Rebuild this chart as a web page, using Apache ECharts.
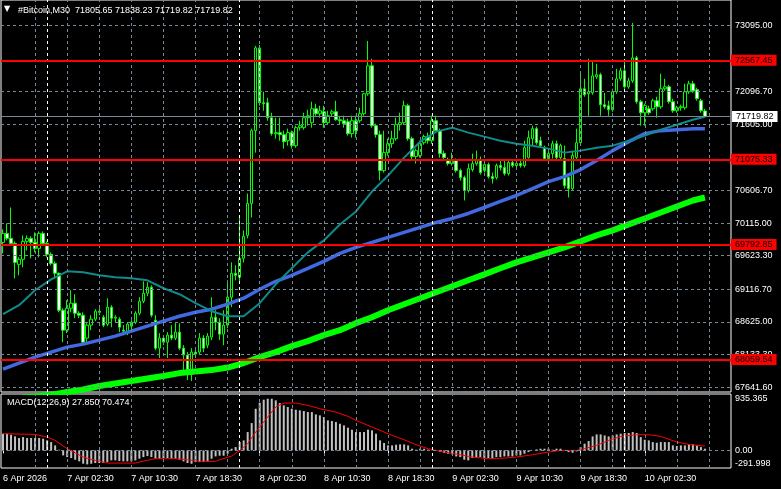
<!DOCTYPE html>
<html><head><meta charset="utf-8">
<script src="https://cdn.jsdelivr.net/npm/echarts@6/dist/echarts.min.js"></script>
<style>html,body{margin:0;padding:0;background:#000;}#c{width:781px;height:489px;}</style>
</head><body><div id="c"></div>
<script>
const FONT = "'Liberation Sans', Arial, sans-serif";
const symbolName = '#Bitcoin,M30';
// OHLC of the 176 M30 bars (6 Apr 18:30 .. 10 Apr 10:00)
const barOpen = [69824,69960,69885,69809,69493,69569,69839,69885,69824,69734,
69960,69809,69644,69508,69358,68802,68502,68832,68908,68757,
68727,68382,68577,68667,68787,68697,68592,68848,68682,68667,
68502,68472,68562,68622,68757,68938,69058,69148,68652,68231,
68382,68321,68427,68382,68472,68231,68126,67901,68171,68171,
68382,68276,68397,68697,68622,68442,68577,68998,69358,69298,
69584,69930,70411,71508,72755,71929,71929,71703,71463,71478,
71448,71357,71478,71282,71553,71553,71703,71628,71838,71763,
71793,71628,71763,71793,71673,71658,71643,71463,71658,71658,
71763,72064,72485,71583,71448,70907,71177,71312,71387,71598,
71628,71884,71387,71117,71132,71327,71418,71357,71658,71508,
71162,71057,71012,71057,70907,70801,70606,70922,71012,71057,
70907,70997,70816,70801,70982,70952,70861,71027,70982,71012,
70982,71102,71387,71538,71357,71252,71087,71162,71312,71102,
71087,70801,70636,71102,71327,72139,72064,72079,72319,72350,
71899,71884,71823,72094,72289,72410,72169,72259,72605,71944,
71778,71838,71838,71959,71868,72139,72169,71944,71808,71853,
71853,72094,72214,72124,71959,71805.65];
const barClose = [69960,69885,69809,69523,69569,69839,69885,69824,69734,69960,
69809,69644,69508,69358,68802,68502,68832,68908,68757,68727,
68321,68577,68667,68787,68772,68577,68848,68682,68697,68547,
68487,68592,68622,68757,68938,69058,69148,68727,68231,68382,
68321,68427,68382,68472,68231,68126,67901,68171,68141,68382,
68231,68412,68697,68622,68442,68577,68998,69358,69328,69584,
69915,70411,71508,72755,71929,71914,71703,71463,71478,71448,
71342,71478,71282,71553,71583,71703,71733,71838,71763,71808,
71628,71733,71793,71673,71658,71613,71463,71658,71508,71763,
72064,72485,71583,71448,70907,71177,71312,71387,71598,71628,
71884,71387,71117,71207,71312,71418,71357,71658,71508,71162,
71102,71012,71057,70907,70801,70606,70937,71012,71057,70876,
70997,70816,70786,70982,70952,70861,71027,70982,71012,70982,
71252,71403,71538,71327,71282,71087,71162,71312,71102,71282,
70681,70636,71132,71327,72139,72049,72094,72334,72350,71899,
71868,71823,72094,72289,72410,72169,72259,72605,71944,71778,
71884,71778,71959,71868,72139,72169,71944,71808,71853,71868,
72094,72214,72109,71989,71808,71719.82];
const barHigh = [70020,70110,70350,69839,69599,69930,69930,69915,69975,69990,
69990,69839,69674,69539,69373,68832,68953,69103,69043,68787,
68772,68607,68727,68817,68832,68727,68983,68878,68727,68697,
68577,68622,68652,68787,68998,69238,69223,69178,68727,68457,
68427,68472,68577,68607,68607,68276,68171,68231,68231,68457,
68427,68457,68998,68802,68682,68802,69253,69523,69479,70200,
70005,70561,71538,72785,72800,72094,72004,71778,71703,71703,
71508,71538,71508,71583,71658,71778,71823,71944,71914,71884,
71884,71808,71823,71959,71733,71733,71688,71733,71733,71853,
72079,72860,72590,71613,71508,71508,71387,71508,71703,71778,
71959,71914,71418,71237,71357,71448,71478,71733,71733,71538,
71207,71102,71177,71087,70937,70831,71012,71162,71207,71117,
71057,71027,70876,71012,71057,71057,71057,71057,71057,71057,
71357,71508,71583,71568,71418,71282,71207,71357,71357,71312,
71282,70831,71207,71538,72365,72289,72590,72560,72515,72380,
72079,71959,72139,72440,72455,72560,72304,73131,72635,71974,
71914,71884,71989,72019,72365,72289,72199,71989,71884,71899,
72214,72259,72259,72154,71989,71838.23];
const barLow = [69659,69854,69779,69283,69328,69448,69704,69584,69674,69599,
69779,69599,69479,69283,68772,68321,68457,68772,68682,68682,
68306,68306,68502,68637,68727,68547,68562,68547,68622,68472,
68427,68427,68502,68592,68727,68908,69013,68697,68201,68081,
68276,68081,68352,68352,68201,67901,67750,67735,68081,68126,
68171,68231,68352,68502,68352,68276,68532,68848,69253,69208,
69523,69885,70200,71177,71884,71808,71658,71433,71387,71357,
71237,71282,71237,71252,71508,71523,71583,71553,71733,71703,
71553,71598,71718,71658,71598,71553,71433,71403,71403,71628,
71733,72034,71553,71403,70756,70876,71132,71252,71357,71508,
71598,71357,71057,71012,71102,71297,71312,71312,71478,71102,
71057,70982,70982,70876,70756,70456,70576,70891,70982,70846,
70876,70786,70711,70771,70907,70831,70831,70952,70937,70952,
70952,71087,71282,71297,71252,71057,71027,71087,71057,71057,
70636,70501,70606,71072,71297,72019,71733,72049,72289,71733,
71838,71733,71793,72064,72259,72139,72139,72229,71914,71583,
71583,71748,71808,71703,71838,72109,71914,71778,71778,71808,
71823,72064,72079,71959,71778,71719.82];

// moving averages, read every 4th bar
const maIdx = [0,4,8,12,16,20,24,28,32,36,40,44,48,52,56,60,64,68,72,76,80,84,88,92,96,100,104,108,112,116,120,124,128,132,136,140,144,148,152,156,160,164,168,172,175];
const maTeal = [68742,68878,69103,69268,69388,69373,69328,69298,69283,69253,69133,69043,68908,68787,68712,68712,68908,69193,69434,69674,69854,70095,70290,70591,70831,71102,71342,71493,71553,71478,71418,71357,71312,71282,71237,71177,71207,71252,71282,71357,71433,71523,71598,71673,71718];
const maBlue = [67915,68006,68096,68171,68246,68291,68352,68412,68487,68562,68637,68712,68772,68817,68893,68983,69118,69238,69328,69434,69539,69659,69749,69824,69900,69975,70050,70125,70185,70260,70350,70441,70531,70636,70741,70816,70922,71057,71207,71342,71463,71508,71523,71538,71538];
const maGreen = [67465,67480,67502,67525,67570,67608,67660,67698,67735,67773,67810,67855,67878,67900,67938,68006,68096,68171,68261,68336,68427,68502,68607,68697,68802,68893,68983,69073,69163,69253,69343,69434,69524,69599,69674,69749,69839,69930,70005,70095,70185,70275,70366,70456,70501];

// MACD(12,26,9)
const macdMain = [277,277,260,232,205,221,205,205,205,205,
194,166,138,83,11,-83,-111,-127,-155,-182,
-221,-232,-221,-210,-210,-210,-194,-166,-166,-177,
-182,-182,-182,-166,-138,-111,-94,-111,-138,-138,
-127,-127,-138,-138,-155,-182,-210,-221,-194,-194,
-194,-182,-138,-100,-88,-88,-55,28,55,138,
166,304,453,691,791,841,857,857,830,785,
747,719,691,675,664,653,636,636,597,581,
553,498,487,470,442,415,376,343,304,304,
304,343,332,277,166,122,83,83,94,100,
100,83,28,11,28,28,11,5,-3,-28,
-44,-55,-66,-100,-111,-155,-166,-127,-111,-111,
-127,-127,-138,-111,-111,-100,-100,-100,-83,-83,
-55,-28,-2,17,28,28,28,11,28,28,
-3,-28,-39,-17,55,111,155,232,265,265,
249,232,249,265,277,288,288,304,288,221,
177,166,138,127,138,138,138,83,72,83,
83,100,100,83,55,27.85];
const sigIdx = [0,4,8,11,13,16,20,23,26,33,35,38,43,46,49,53,54,57,59,61,63,66,68,70,73,76,79,83,86,88,91,94,97,100,103,106,110,114,117,121,125,128,132,136,139,143,144,148,151,154,158,161,164,168,171,175];
const sigVal = [277,271,265,221,166,28,-111,-166,-210,-210,-177,-138,-138,-155,-182,-182,-155,-94,0,111,304,553,719,785,785,747,691,636,564,498,415,332,249,177,94,28,-28,-72,-111,-138,-127,-111,-72,-28,0,0,11,83,166,232,260,260,232,138,100,70.474];

const timeLabels = ['6 Apr 2026','7 Apr 02:30','7 Apr 10:30','7 Apr 18:30','8 Apr 02:30','8 Apr 10:30','8 Apr 18:30','9 Apr 02:30','9 Apr 10:30','9 Apr 18:30','10 Apr 02:30'];
const priceTicks = [73095.00,72096.70,71605.00,70606.70,70115.00,69623.30,69116.70,68625.00,68133.30,67641.60];
const levelLines = [72567.45,71075.33,69792.85,68059.54];
const macdMax = 935.365, macdMin = -291.998;
const lastPrice = 71719.82;

const NSLOT = 182, LABEL_STEP = 16;
const cats = Array.from({length: NSLOT}, (_, i) => 'b' + i);
const candleData = barOpen.map((o, i) => [o, barClose[i], barLow[i], barHigh[i]]);
const pairs = (idx, vals) => idx.map((k, j) => [k, vals[j]]);
const vGrid = []; for (let i = 8; i <= 176; i += 8) vGrid.push(i);
const daySep = [11, 59, 107, 155];

const GRID = '#778899';
const vLines = vGrid.map(i => ({xAxis: i, lineStyle: {color: GRID, type: [3, 3], width: 1}}))
  .concat(daySep.map(i => ({xAxis: i, lineStyle: {color: '#ffffff', type: [3, 3], width: 1}})));

const chart = echarts.init(document.getElementById('c'), null, {renderer: 'canvas', width: 781, height: 489});
const baseText = {fontFamily: FONT, fontSize: 9, color: '#ffffff'};
// small inset so the extreme labels sit just inside the panel
const inset = (macdMax - macdMin) * 0.001;

chart.setOption({
  backgroundColor: '#000000',
  animation: false,
  title: [
    {text: '▼', left: 4, top: 5, padding: 0, textStyle: {color: '#fff', fontSize: 8, fontFamily: 'DejaVu Sans', fontWeight: 'normal'}},
    {text: symbolName + '  ' + [barOpen[175], barHigh[175], barLow[175], barClose[175]].map(v => v.toFixed(2)).join(' '),
     left: 18, top: 6, padding: 0, textStyle: Object.assign({fontWeight: 'normal'}, baseText)},
    {text: 'MACD(12,26,9) ' + macdMain[175].toFixed(3) + ' ' + sigVal[sigVal.length - 1].toFixed(3),
     left: 7, top: 398, padding: 0, textStyle: Object.assign({fontWeight: 'normal'}, baseText)}
  ],
  grid: [
    {left: 1, top: -1, width: 730, height: 393, show: true, borderColor: '#ffffff', borderWidth: 1, backgroundColor: 'transparent'},
    {left: 1, top: 394, width: 730, height: 74, show: true, borderColor: '#ffffff', borderWidth: 1, backgroundColor: 'transparent'}
  ],
  xAxis: [
    {type: 'category', gridIndex: 0, data: cats, boundaryGap: true, axisLine: {show: false}, axisTick: {show: false}, axisLabel: {show: false}, splitLine: {show: false}},
    {type: 'category', gridIndex: 1, data: cats, boundaryGap: true, axisLine: {show: false},
     axisTick: {show: true, alignWithLabel: true, length: 3, interval: (i) => i % LABEL_STEP === 0 && i / LABEL_STEP < timeLabels.length, lineStyle: {color: '#fff'}},
     axisLabel: Object.assign({show: true, interval: 0, align: 'left', margin: 6,
       formatter: (v, i) => (i % LABEL_STEP === 0 && i / LABEL_STEP < timeLabels.length) ? timeLabels[i / LABEL_STEP] : ''}, baseText),
     splitLine: {show: false}}
  ],
  yAxis: [
    {type: 'value', gridIndex: 0, min: 67569.94, max: 73476.73, show: false, splitLine: {show: false}},
    {type: 'value', gridIndex: 1, min: macdMin, max: macdMax, show: false, splitLine: {show: false}}
  ],
  series: [
    {type: 'line', name: 'gridMain', xAxisIndex: 0, yAxisIndex: 0, data: [], z: 1, silent: true,
     markLine: {silent: true, symbol: ['none', 'none'], animation: false,
       label: {show: false},
       data: vLines.concat(priceTicks.map(v => ({yAxis: v, lineStyle: {color: GRID, type: [3, 3], width: 1},
         label: Object.assign({show: true, position: 'end', distance: 4, formatter: (p) => p.value.toFixed(2)}, baseText)})))}},
    {type: 'line', name: 'gridMacd', xAxisIndex: 1, yAxisIndex: 1, data: [], z: 1, silent: true,
     markLine: {silent: true, symbol: ['none', 'none'], animation: false,
       label: {show: false},
       data: vLines.concat([
         {yAxis: macdMax - inset, name: macdMax.toFixed(3), lineStyle: {color: '#000', width: 0.1},
          label: Object.assign({show: true, position: 'end', distance: 4, formatter: '{b}', verticalAlign: 'top'}, baseText)},
         {yAxis: 0, name: '0.00', lineStyle: {color: GRID, type: [3, 3], width: 1},
          label: Object.assign({show: true, position: 'end', distance: 4, formatter: '{b}'}, baseText)},
         {yAxis: macdMin + inset, name: macdMin.toFixed(3), lineStyle: {color: '#000', width: 0.1},
          label: Object.assign({show: true, position: 'end', distance: 4, formatter: '{b}', verticalAlign: 'bottom'}, baseText)}
       ])}},
    {type: 'candlestick', name: 'price', xAxisIndex: 0, yAxisIndex: 0, data: candleData, barWidth: 3, z: 2,
     itemStyle: {color: '#000000', color0: '#ffffff', borderColor: '#00ff00', borderColor0: '#00ff00', borderWidth: 1}},
    {type: 'line', name: 'maGreen', data: pairs(maIdx, maGreen), showSymbol: false, symbol: 'none', z: 3,
     lineStyle: {color: '#00ff00', width: 6}},
    {type: 'line', name: 'maBlue', data: pairs(maIdx, maBlue), showSymbol: false, symbol: 'none', z: 3,
     lineStyle: {color: '#4169e1', width: 3.5}},
    {type: 'line', name: 'maTeal', data: pairs(maIdx, maTeal), showSymbol: false, symbol: 'none', z: 3,
     lineStyle: {color: '#108a8a', width: 2}},
    {type: 'line', name: 'levels', xAxisIndex: 0, yAxisIndex: 0, data: [], z: 6, silent: true,
     markLine: {silent: true, symbol: ['none', 'none'], animation: false,
       data: levelLines.map(v => ({yAxis: v, lineStyle: {color: '#ff0000', type: 'solid', width: 2},
         label: {show: true, position: 'end', distance: 0, formatter: (p) => p.value.toFixed(2),
           backgroundColor: '#ff0000', color: '#000000', fontFamily: FONT, fontSize: 9, lineHeight: 10, padding: [1, 4, 0, 4]}}))
         .concat([{yAxis: lastPrice, lineStyle: {color: GRID, type: 'solid', width: 1},
           label: {show: true, position: 'end', distance: 1, formatter: (p) => p.value.toFixed(2),
             backgroundColor: '#ffffff', color: '#000000', fontFamily: FONT, fontSize: 9, lineHeight: 10, padding: [1, 4, 0, 4]}}])}},
    {type: 'bar', name: 'MACD', xAxisIndex: 1, yAxisIndex: 1, data: macdMain, barWidth: 2, z: 2,
     itemStyle: {color: '#c0c0c0'}},
    {type: 'line', name: 'Signal', xAxisIndex: 1, yAxisIndex: 1, data: pairs(sigIdx, sigVal), showSymbol: false, symbol: 'none', z: 3,
     lineStyle: {color: '#ff0000', width: 1}}
  ]
});
</script></body></html>
